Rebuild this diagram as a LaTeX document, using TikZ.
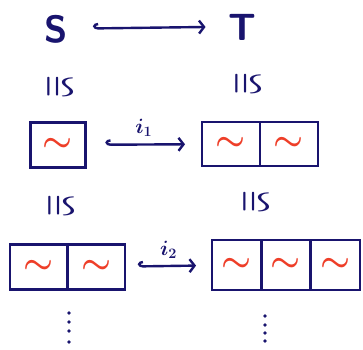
\documentclass[tikz,border=0pt]{standalone}
\usepackage{amsmath,amssymb,bm}
\usetikzlibrary{arrows.meta,positioning}
\definecolor{InkBlue}{RGB}{25,20,110}
\definecolor{InkRed}{RGB}{238,62,40}
\newcommand{\wave}{\scalebox{1.35}{$\bm{\sim}$}}

\begin{document}
\begin{tikzpicture}[x=1pt,y=-1pt,
    cell/.style={draw=InkBlue,line width=2.4pt,inner sep=0pt,outer sep=0pt,
      minimum width=56pt,minimum height=45pt,text=InkRed,
      font=\fontsize{36}{36}\selectfont},
    iso/.style={rotate=-90,text=InkBlue,inner sep=0pt,
      font=\fontsize{27}{27}\selectfont},
    incl/.style={draw=InkBlue,line width=2.4pt,line cap=round,
      {Hooks[right,length=5pt,width=11pt]}-{Straight Barb[length=5pt,width=13pt]}},
    setname/.style={text=InkBlue,anchor=base,text height=27pt,
      font=\fontsize{38}{38}\selectfont\sffamily\bfseries},
    lbl/.style={text=InkBlue,font=\fontsize{21}{21}\selectfont}]
  \useasboundingbox (0,0) rectangle (363,349);

  % top row
  \node[setname] (S) at (56,42) {S};
  \node[setname] (T) at (242,40) {T};
  \draw[incl,shorten <=22pt,shorten >=19pt] (S) -- (T);

  % isomorphisms
  \node[iso] (isoA) at (58,87) {\scalebox{-1}[1.6]{$\bm{\cong}$}};
  \node[iso] (isoB) at (246,84) {\scalebox{-1}[1.6]{$\bm{\cong}$}};
  \node[iso] (isoC) at (59,206) {\scalebox{-1}[1.6]{$\bm{\cong}$}};
  \node[iso] (isoD) at (254,202) {\scalebox{-1}[1.6]{$\bm{\cong}$}};

  % first level
  \node[cell,minimum width=55pt] (a1) at (58,145) {\wave};
  \node[cell,minimum width=58pt,minimum height=44pt] (b1) at (231,144) {\wave};
  \node[cell,minimum width=58pt,minimum height=44pt,right=0pt of b1] (b2) {\wave};
  \draw[incl,shorten <=20pt,shorten >=17pt] (a1) -- node[lbl,above=3pt] {$\bm{i_1}$} (b1);

  % second level
  \node[cell,minimum width=57.5pt] (c1) at (38.75,267) {\wave};
  \node[cell,minimum width=57.5pt,right=0pt of c1] (c2) {\wave};
  \node[cell,minimum width=49.3pt,minimum height=50pt] (d1) at (236.7,265) {\wave};
  \node[cell,minimum width=49.3pt,minimum height=50pt,right=0pt of d1] (d2) {\wave};
  \node[cell,minimum width=49.3pt,minimum height=50pt,right=0pt of d2] (d3) {\wave};
  \draw[incl,shorten <=13pt,shorten >=16pt] (c2) -- node[lbl,above=3pt] {$\bm{i_2}$} (d1);

  % and so on
  \foreach \y in {313,322,331,342}
    \fill[InkBlue] (69,\y) circle (1.8pt);
  \foreach \y in {316,325,333,341}
    \fill[InkBlue] (265,\y) circle (1.8pt);
\end{tikzpicture}
\end{document}
